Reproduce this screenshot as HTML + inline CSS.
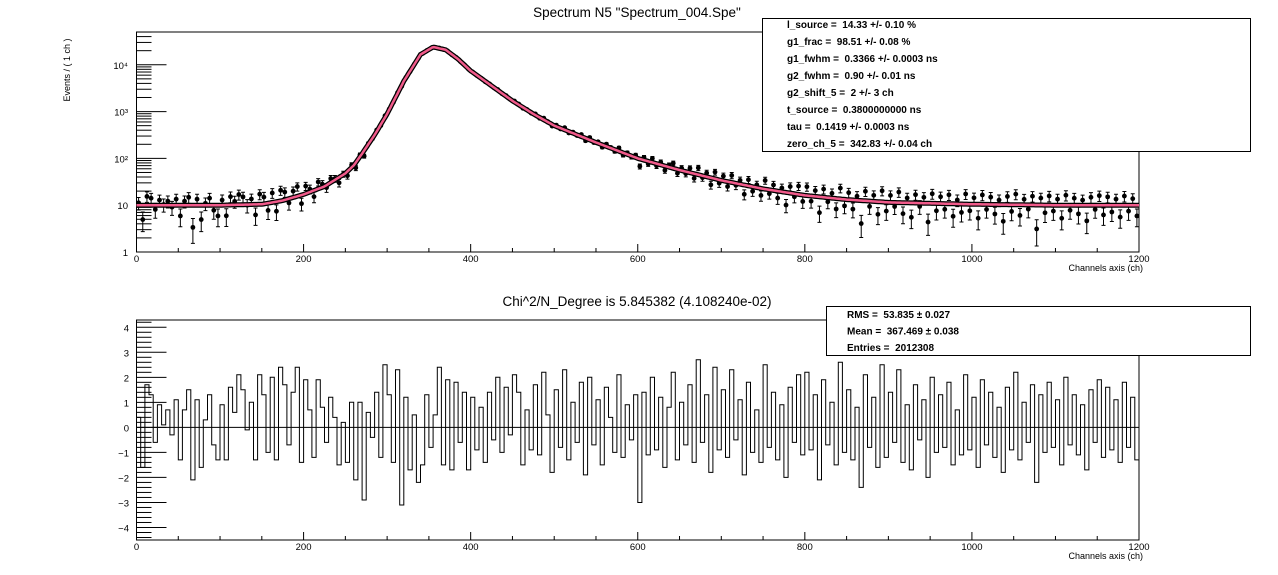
<!DOCTYPE html>
<html><head><meta charset="utf-8"><style>
body{margin:0;background:#fff;}
svg{display:block;font-family:"Liberation Sans",sans-serif;}
text{white-space:pre;}
</style></head><body>
<svg id="c" width="1278" height="575" viewBox="0 0 1278 575"></svg>
<script>
// fitted curve: channel knots and log10(counts)
const curveCh=[0,50,100,150,175,200,225,250,260,270,285,300,320,340,355,370,385,400,425,450,475,500,550,600,650,700,750,800,850,900,1000,1100,1200];
const curveLog=[1.0,1.0,1.0,1.02,1.1,1.23,1.4,1.68,1.85,2.1,2.5,2.95,3.65,4.22,4.38,4.32,4.12,3.87,3.55,3.23,2.95,2.7,2.34,2.0,1.75,1.53,1.35,1.21,1.12,1.06,1.02,1.0,1.0];
// residuals (data-fit)/sigma per 5-channel bin
const resid=[
0.4,-1.6,1.7,1.3,-0.6,0.9,0.1,0.7,-0.3,1.1,-1.3,0.7,1.5,-2.1,1.1,-1.6,0.3,1.3,-0.7,-1.3,
0.9,-1.3,1.6,0.6,2.1,1.5,-0.1,1.0,-1.3,2.1,1.3,-1.0,2.0,-1.3,2.4,1.7,-0.7,1.4,2.4,-1.4,
1.9,0.7,-1.2,1.9,0.8,-0.6,1.2,0.4,-1.5,0.2,-1.4,1.0,-2.1,1.0,-2.9,0.6,-0.4,1.4,-1.2,2.5,
1.3,-1.4,2.3,-3.1,1.2,-1.7,0.5,-2.2,-1.5,1.3,-0.8,0.5,2.4,-1.5,1.9,-1.7,1.8,-0.6,1.4,-1.7,
1.2,-0.9,0.8,-1.4,1.4,-0.5,2.0,-1.0,1.6,-0.3,2.1,1.4,-1.5,0.7,-0.9,1.7,-1.1,2.2,0.5,-1.8,
1.5,-0.8,2.3,-1.3,1.0,-0.6,1.8,-1.9,2.0,-0.7,1.1,-1.5,1.6,0.4,-1.0,2.1,-1.2,0.9,-0.5,1.3,
-3.0,1.4,-1.1,2.0,-0.9,1.2,-1.6,0.8,2.2,-1.3,1.0,-0.7,1.7,-1.4,2.7,-0.6,1.3,-1.8,2.4,-0.9,
1.5,-1.2,2.3,-0.5,1.1,-1.9,1.8,-1.0,0.7,-1.4,2.5,-0.8,1.4,-1.3,0.9,-2.0,1.6,-0.6,2.1,-1.1,
2.2,-0.9,1.3,-2.1,1.9,-0.7,1.0,-1.5,2.6,-1.0,1.5,-1.3,0.8,-2.4,2.1,-0.8,1.2,-1.6,2.5,-1.2,
1.4,-0.6,2.3,-1.4,0.9,-1.7,1.7,-0.5,1.1,-2.0,2.0,-1.0,1.3,-0.8,1.8,-1.5,0.7,-1.1,2.1,-0.9,
1.2,-1.6,1.9,-0.7,1.4,-1.2,0.8,-1.8,1.6,-0.9,2.2,-1.3,1.0,-0.6,1.7,-2.2,1.3,-1.0,1.8,-0.8,
1.1,-1.5,2.0,-0.7,1.3,-1.1,0.9,-1.7,1.5,-0.6,1.9,-1.2,1.6,-0.9,1.1,-1.4,1.8,-0.8,1.2,-1.3];
const binWidth=5;
const xTicks=[0,200,400,600,800,1000,1200];
const logTickLabels=["1","10","10²","10³","10⁴"];
const residTicks=[-4,-3,-2,-1,0,1,2,3,4];
const statsTop=["l_source =  14.33 +/- 0.10 %","g1_frac =  98.51 +/- 0.08 %","g1_fwhm =  0.3366 +/- 0.0003 ns","g2_fwhm =  0.90 +/- 0.01 ns","g2_shift_5 =  2 +/- 3 ch","t_source =  0.3800000000 ns","tau =  0.1419 +/- 0.0003 ns","zero_ch_5 =  342.83 +/- 0.04 ch"];
const statsBot=["RMS =  53.835 ± 0.027","Mean =  367.469 ± 0.038","Entries =  2012308"];

const S=document.getElementById('c');const NS='http://www.w3.org/2000/svg';
function mk(t,a,p){const e=document.createElementNS(NS,t);for(const k in a)e.setAttribute(k,a[k]);(p||S).appendChild(e);return e;}
const X0=136.5,X1=1139;
const xs=c=>X0+(c/1200)*(X1-X0);
const T={top:32,bot:252,lmin:0,lmax:4.70};
const ly=l=>T.bot-(l-T.lmin)/(T.lmax-T.lmin)*(T.bot-T.top);
const B={top:320,bot:540,min:-4.5,max:4.29};
const ry=v=>B.bot-(v-B.min)/(B.max-B.min)*(B.bot-B.top);
function fitLog(c){for(let i=0;i<curveCh.length-1;i++){if(c<=curveCh[i+1]){const t=(c-curveCh[i])/(curveCh[i+1]-curveCh[i]);return curveLog[i]+t*(curveLog[i+1]-curveLog[i]);}}return curveLog[curveLog.length-1];}
const lg=v=>Math.log10(Math.max(v,1.05));

// titles
let t=mk('text',{x:637,y:17,'font-size':13.5,'text-anchor':'middle'});t.textContent='Spectrum N5 "Spectrum_004.Spe"';

t=mk('text',{x:637,y:306,'font-size':13.5,'text-anchor':'middle'});t.textContent='Chi^2/N_Degree is 5.845382 (4.108240e-02)';

t=mk('text',{x:0,y:0,'font-size':9,'text-anchor':'middle',transform:'translate(70,70) rotate(-90)'});t.textContent='Events / ( 1 ch )';


// frames
function axes(top,bot,name){
 const g=mk('g',{});
 mk('rect',{x:X0,y:top,width:X1-X0,height:bot-top,fill:'none',stroke:'#000','stroke-width':1},g);
 for(let c=0;c<=1200;c+=50){const maj=c%200===0;mk('line',{x1:xs(c),x2:xs(c),y1:bot,y2:bot-(maj?8:4),stroke:'#000'},g);}
 xTicks.forEach(v=>{const e=mk('text',{x:xs(v),y:bot+10,'font-size':9.5,'text-anchor':'middle'},g);e.textContent=v;});
 const e=mk('text',{x:X1+4,y:bot+19,'font-size':9,'text-anchor':'end'},g);e.textContent='Channels axis (ch)';
 return g;}
const gT=axes(T.top,T.bot,'top');
for(let d=0;d<5;d++){for(let m=1;m<10;m++){const l=d+Math.log10(m);if(l>T.lmax)break;mk('line',{x1:X0,x2:X0+(m===1?30:15),y1:ly(l),y2:ly(l),stroke:'#000'},gT);}}
logTickLabels.forEach((s,i)=>{const e=mk('text',{x:128,y:ly(i)+4,'font-size':9.5,'text-anchor':'end'},gT);e.textContent=s;});
const gB=axes(B.top,B.bot,'bottom');
for(let v=-4.4;v<=4.25;v+=0.2){const r=Math.round(v*5)/5;const maj=Math.abs(r-Math.round(r))<1e-6;mk('line',{x1:X0,x2:X0+(maj?30:15),y1:ry(r),y2:ry(r),stroke:'#000'},gB);}
residTicks.forEach(v=>{const e=mk('text',{x:129,y:ry(v)+4,'font-size':9.5,'text-anchor':'end'},gB);e.textContent=v<0?'−'+(-v):v;});

// data points
const gD=mk('g',{});
resid.forEach((r,i)=>{const c=i*binWidth+binWidth/2;const f=Math.pow(10,fitLog(c));const d=Math.max(f+r*Math.sqrt(f),1.2);const e=Math.sqrt(d);
 const x=xs(c);const y1=ly(lg(d+e)),y2=ly(lg(d-e));
 const p=mk('path',{d:`M${x},${y1}V${y2}M${x-2},${y1}H${x+2}M${x-2},${y2}H${x+2}`,stroke:'#000','stroke-width':1,fill:'none'},gD);
 
 const m=mk('circle',{cx:x,cy:ly(lg(d)),r:2.4,fill:'#000'},gD);
 
});
// fit curve
let pd='';for(let c=0;c<=1200;c+=2){pd+=(c?'L':'M')+xs(c).toFixed(1)+','+ly(fitLog(c)).toFixed(1);}
const fc=mk('path',{d:pd,stroke:'#000','stroke-width':5,fill:'none'});
const fc2=mk('path',{d:pd,stroke:'#f05a8a','stroke-width':2.5,fill:'none'});

// residual histogram (step outline)
let rp=`M${xs(0)},${ry(0)}`;resid.forEach((r,i)=>{rp+=`V${ry(r).toFixed(1)}H${xs((i+1)*binWidth).toFixed(1)}`;});rp+=`V${ry(0)}`;
const rh=mk('path',{d:rp,stroke:'#000','stroke-width':1,fill:'none'});
mk('line',{x1:X0,x2:X1,y1:ry(0),y2:ry(0),stroke:'#000'});

// stats boxes
function box(x,y,w,h,lines,tx,ty0,dy,name){const g=mk('g',{});
 mk('rect',{x,y,width:w,height:h,fill:'#fff',stroke:'#000','stroke-width':1},g);
 lines.forEach((s,i)=>{const e=mk('text',{x:tx,y:ty0+i*dy,'font-size':10,'font-weight':'bold'},g);e.textContent=s;});}
box(762.5,18.5,488,133,statsTop,787,28,17,'fit-parameters-box');
box(826.5,306.5,424,49,statsBot,847,318,16.5,'statistics-box');
</script>
</body></html>
